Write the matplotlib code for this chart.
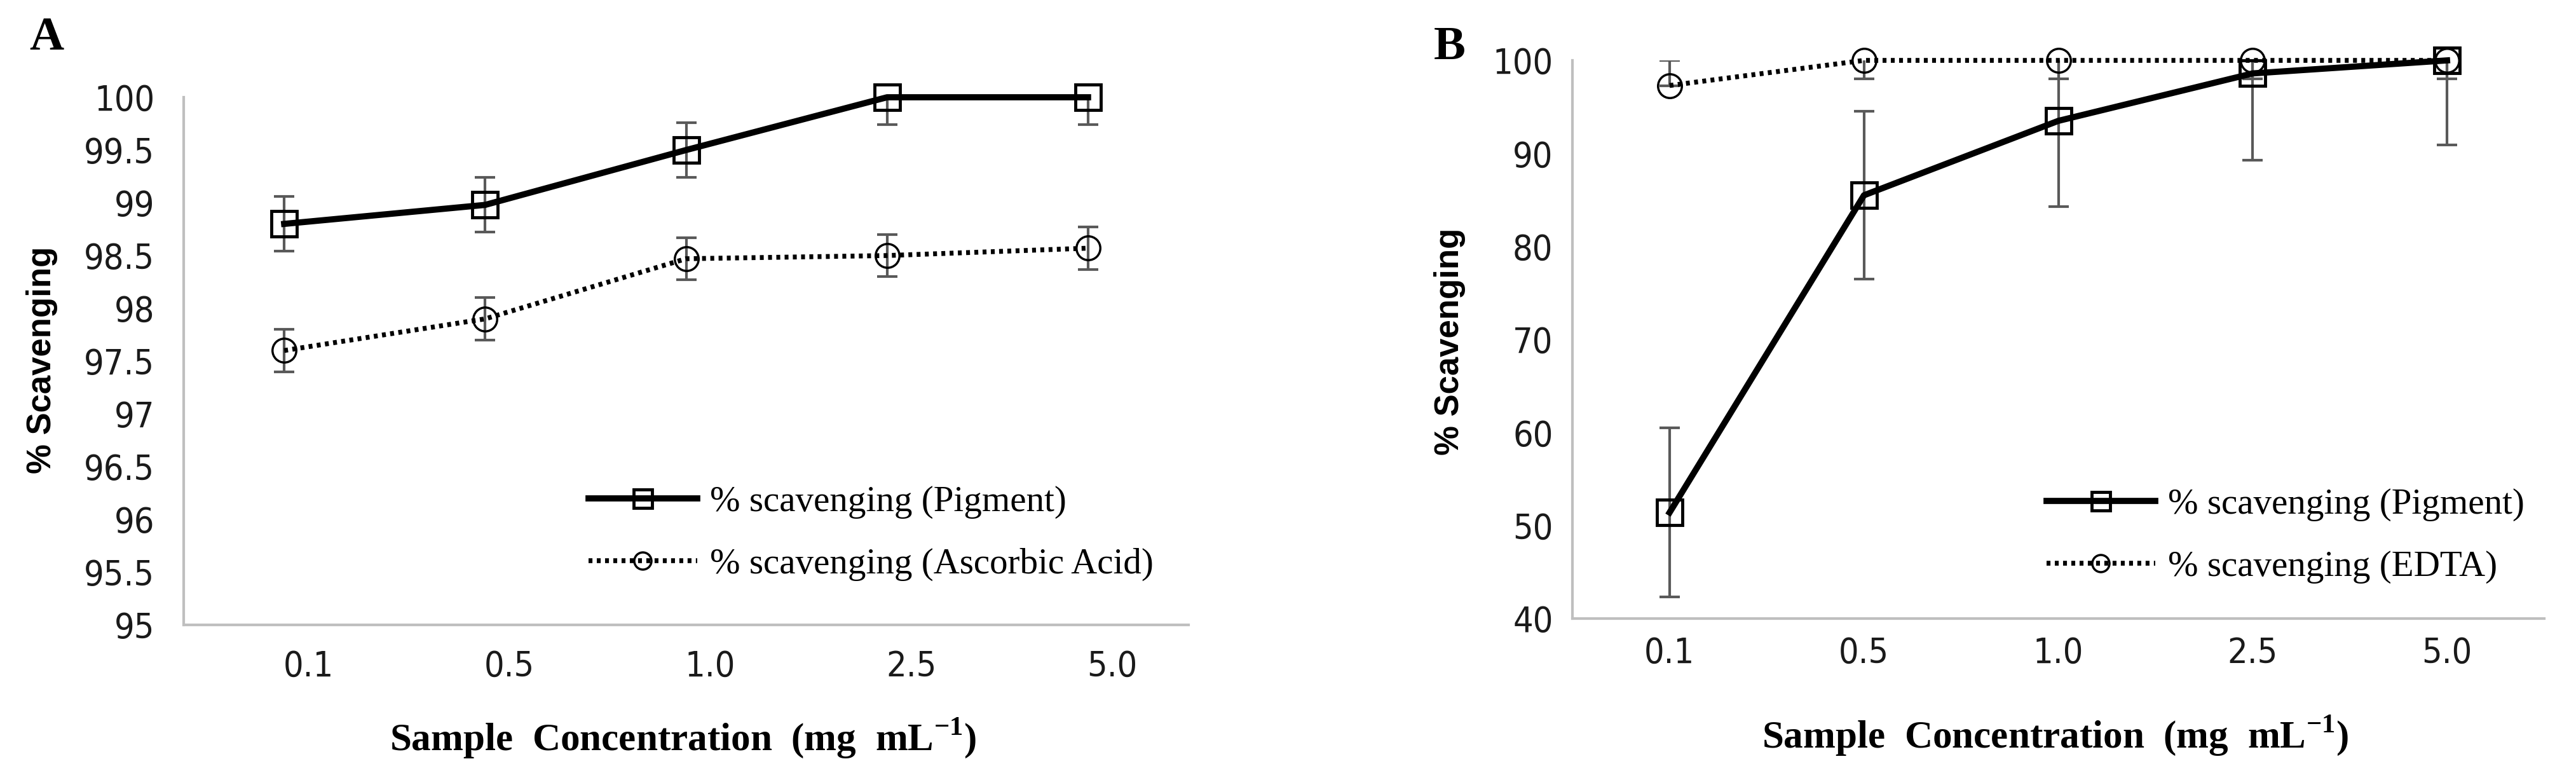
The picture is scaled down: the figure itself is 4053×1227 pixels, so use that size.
import matplotlib
matplotlib.use('Agg')
import matplotlib.pyplot as plt
import matplotlib.transforms as mtransforms
from matplotlib import font_manager

# values
conc_labels = ['0.1', '0.5', '1.0', '2.5', '5.0']

pigment_a = [98.8, 98.98, 99.5, 100.0, 100.0]
pigment_a_err = [0.26, 0.26, 0.26, 0.26, 0.26]
ascorbic_a = [97.6, 97.9, 98.47, 98.5, 98.57]
ascorbic_a_err = [0.2, 0.2, 0.2, 0.2, 0.2]

pigment_b = [51.4, 85.5, 93.5, 98.6, 100.0]
pigment_b_err = [9.1, 9.0, 9.2, 9.3, 9.1]
edta_b = [97.3, 100.0, 100.0, 100.0, 100.0]
edta_b_err_low = [0.0, 2.0, 2.0, 2.0, 2.0]
edta_b_err_high = [2.7, 2.0, 2.0, 2.0, 2.0]

yticks_a = [95, 95.5, 96, 96.5, 97, 97.5, 98, 98.5, 99, 99.5, 100]
yticks_b = [40, 50, 60, 70, 80, 90, 100]

W, H, DPI = 4053, 1227, 100
plt.rcParams['mathtext.fontset'] = 'custom'
plt.rcParams['mathtext.rm'] = 'Liberation Serif:bold'
plt.rcParams['mathtext.bf'] = 'Liberation Serif:bold'

# tick labels in the original are a narrow sans; use one if installed
tick_prop = None
for f in font_manager.fontManager.ttflist:
    narrow = ('Narrow' in f.name or 'Condensed' in f.name
              or f.stretch in ('condensed', 'semi-condensed'))
    if narrow and f.weight in (400, 'normal', 'regular') and f.style == 'normal':
        tick_prop = font_manager.FontProperties(fname=f.fname, size=40)
        break
if tick_prop is None:
    tick_prop = font_manager.FontProperties(family='Liberation Sans', size=33)

serif = ['Liberation Serif', 'DejaVu Serif']
spine_col = '#bfbfbf'
err_col = '#595959'

fig = plt.figure(figsize=(W / DPI, H / DPI), dpi=DPI)
ax_a = fig.add_axes([289 / W, 1 - 983 / H, (1870 - 289) / W, (983 - 153) / H])
ax_b = fig.add_axes([2474 / W, 1 - 973 / H, (4003 - 2474) / W, (973 - 95) / H])


def draw_panel(ax, s1, e1, s2, e2, lab1, lab2, yticks, ylim, ypad, xpad):
    x = list(range(len(conc_labels)))
    ax.errorbar(x, s2, yerr=e2, fmt='none', ecolor=err_col, elinewidth=3,
                capsize=11.5, capthick=3, zorder=2)
    ax.errorbar(x, s1, yerr=e1, fmt='none', ecolor=err_col, elinewidth=3,
                capsize=11.5, capthick=3, zorder=2)
    ax.plot(x, s1, color='black', lw=7, marker='s', ms=29, mfc='none',
            mec='black', mew=3.5, label=lab1, zorder=3, clip_on=False)
    ax.plot(x, s2, color='black', lw=5.5, ls=(0, (0.8, 0.9)), marker='o',
            ms=27, mfc='none', mec='black', mew=2.5, label=lab2, zorder=3,
            clip_on=False)
    ax.set_xlim(-0.5, len(x) - 0.5)
    ax.set_ylim(*ylim)
    ax.set_xticks(x)
    ax.set_xticklabels(conc_labels)
    ax.set_yticks(yticks)
    ax.set_yticklabels(['%g' % v for v in yticks])
    for s in ['top', 'right']:
        ax.spines[s].set_visible(False)
    for s in ['left', 'bottom']:
        ax.spines[s].set_color(spine_col)
        ax.spines[s].set_linewidth(3)
    ax.tick_params(axis='both', length=0, colors='#1a1a1a')
    ax.tick_params(axis='y', pad=ypad)
    ax.tick_params(axis='x', pad=xpad)
    for t in ax.get_xticklabels() + ax.get_yticklabels():
        t.set_fontproperties(tick_prop)


draw_panel(ax_a, pigment_a, pigment_a_err, ascorbic_a, ascorbic_a_err,
           '% scavenging (Pigment)', '% scavenging (Ascorbic Acid)',
           yticks_a, (95, 100), 33, 28)
draw_panel(ax_b, pigment_b, pigment_b_err, edta_b,
           [edta_b_err_low, edta_b_err_high],
           '% scavenging (Pigment)', '% scavenging (EDTA)',
           yticks_b, (40, 100), 22, 20)

# x tick labels of panel A sit a little right of the points in the original
shift = mtransforms.ScaledTranslation(38 / DPI, 0, fig.dpi_scale_trans)
for t in ax_a.get_xticklabels():
    t.set_transform(t.get_transform() + shift)

leg_kw = dict(frameon=False, borderpad=0, borderaxespad=0, handlelength=3.0,
              handletextpad=0.35, labelspacing=0.8, markerscale=0.72,
              prop={'family': serif, 'size': 41}, loc='upper left',
              bbox_transform=fig.transFigure)
ax_a.legend(bbox_to_anchor=(926 / W, 1 - 764 / H), **leg_kw)
ax_b.legend(bbox_to_anchor=(3220 / W, 1 - 768 / H), **leg_kw)

ylab_kw = dict(rotation=90, ha='center', va='center', fontsize=38,
               fontweight='bold', family=['Liberation Sans', 'DejaVu Sans'])
fig.text(66 / W, 1 - 566 / H, '% Scavenging', **ylab_kw)
fig.text(2281 / W, 1 - 537 / H, '% Scavenging', **ylab_kw)

xlab = 'Sample  Concentration  (mg  mL$^{-1}$)'
xlab_kw = dict(ha='center', va='center', fontsize=44, fontweight='bold',
               family=serif)
fig.text(1075 / W, 1 - 1161 / H, xlab, **xlab_kw)
fig.text(3234 / W, 1 - 1157 / H, xlab, **xlab_kw)

fig.text(46 / W, 1 - 60 / H, 'A', ha='left', va='center', fontsize=54,
         fontweight='bold', family=serif)
fig.text(2256 / W, 1 - 75 / H, 'B', ha='left', va='center', fontsize=54,
         fontweight='bold', family=serif)

fig.savefig('out.png', dpi=DPI)
